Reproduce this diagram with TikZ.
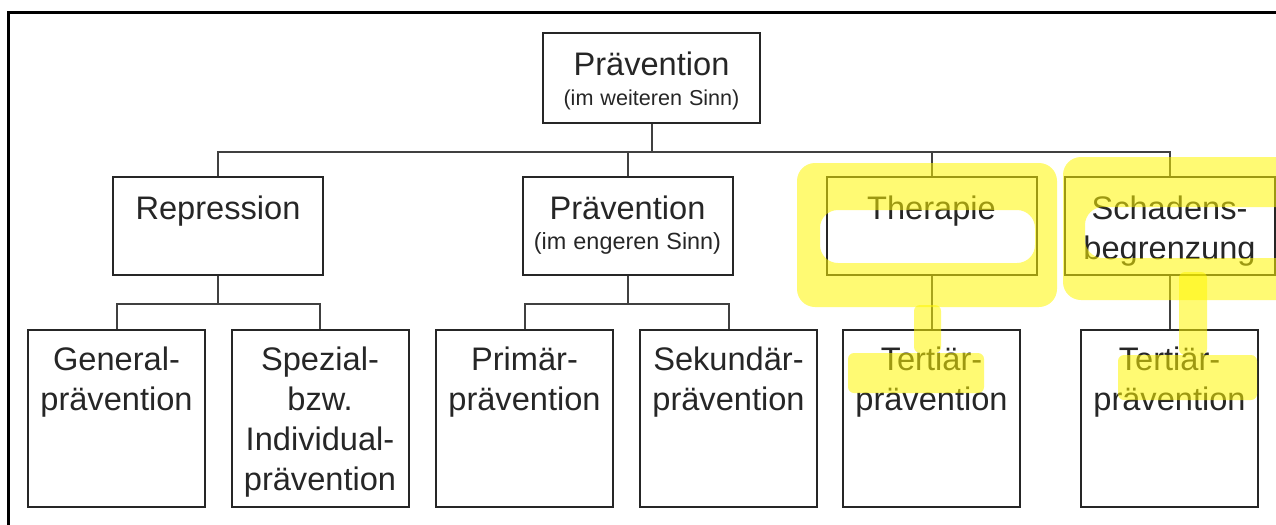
\documentclass[tikz,border=0pt]{standalone}
\usepackage{fontspec}
\setmainfont{Liberation Sans}
\usepackage{tikz}
\usetikzlibrary{positioning}
\definecolor{marker}{RGB}{255,246,0}
\newcommand{\zusatz}[1]{\fontsize{#1}{13}\selectfont\spaceskip=0pt\relax}

\begin{document}
\begin{tikzpicture}[x=0.5pt,y=-0.5pt,on grid,inner sep=0pt]
        \tikzstyle{kasten}=[draw=black!85,line width=1pt,text=black!85,align=center,font=\fontsize{16.3}{20}\selectfont]
        \tikzstyle{oben}=[kasten,text width=108.5pt,text height=21pt,text depth=24pt]
        \tikzstyle{mitte}=[kasten,text width=105pt,text height=21pt,text depth=28pt]
        \tikzstyle{unten}=[kasten,text width=88.5pt,text height=20pt,text depth=68.5pt]
        \tikzstyle{stiel}=[draw=black!75,line width=1pt]
        \tikzstyle{ast}=[stiel,to path={(\tikztostart) -- ++(0,28) -| (\tikztotarget)}]
        \tikzstyle{leuchtstift}=[fill=marker,fill opacity=0.55,rounded corners=9pt]
        \useasboundingbox (0,0) rectangle (1276,525);
        \draw[line width=1.5pt] (8,525) -- (8,12) -- (1276,12);

        \node[oben] (PiwS) at (651.5,78) {Prävention\\[-5pt]\zusatz{10.8}(im weiteren Sinn)};
        \node[mitte] (Rep) at (218,226) {Repression};
        \node[mitte] (PieS) [right=204.75pt of Rep] {Prävention\\[-5pt]\zusatz{11.7}(im engeren Sinn)};
        \node[mitte] (Ther) [right=152pt of PieS] {Therapie};
        \node[mitte] (Scha) [right=119pt of Ther] {Schadens-\\begrenzung};
        \node[unten] (GenP) at (116.5,418.5) {General-\\prävention};
        \node[unten] (SpeP) [right=101.75pt of GenP] {Spezial-\\bzw.\\Individual-\\prävention};
        \node[unten] (PriP) [right=102.25pt of SpeP] {Primär-\\prävention};
        \node[unten] (SekP) [right=102pt of PriP] {Sekundär-\\prävention};
        \node[unten] (TerP) [right=101.5pt of SekP] {Tertiär-\\prävention};
        \node[unten] (TerS) [right=119pt of TerP] {Tertiär-\\prävention};

        \path (PiwS.south) edge[ast] (Rep.north) edge[ast] (PieS.north)
                           edge[ast] (Ther.north) edge[ast] (Scha.north)
              (Rep.south) edge[ast] (GenP.north) edge[ast] (SpeP.north)
              (PieS.south) edge[ast] (PriP.north) edge[ast] (SekP.north)
              (Ther) edge[stiel] (TerP)
              (Scha) edge[stiel] (TerS);

        % Markierungen
        \begin{scope}
            \clip (0,0) rectangle (1276,525);
            \fill[leuchtstift,even odd rule] (797,163) rectangle (1057,307) (820,210) rectangle (1035,263);
            \fill[leuchtstift,rounded corners=3pt] (914,305) rectangle (941,353);
            \fill[leuchtstift,rounded corners=3pt] (848,353) rectangle (984,393);
            \fill[leuchtstift,even odd rule] (1063,157) rectangle (1300,300) (1085,207) rectangle (1300,258);
            \fill[leuchtstift,rounded corners=3pt] (1179,272) rectangle (1207,355);
            \fill[leuchtstift,rounded corners=3pt] (1118,355) rectangle (1257,400);
        \end{scope}
    \end{tikzpicture}
\end{document}
